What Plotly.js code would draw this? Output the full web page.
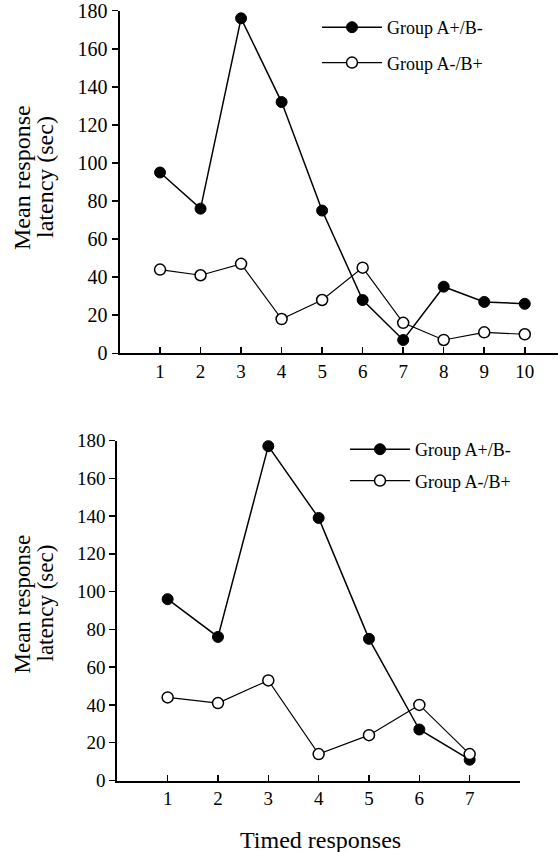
<!DOCTYPE html>
<html>
<head>
<meta charset="utf-8">
<script src="https://cdn.plot.ly/plotly-3.0.1.min.js"></script>
<style>html,body{margin:0;padding:0;background:#fff;}#chart{width:560px;height:852px;}</style>
</head>
<body>
<div id="chart"></div>
<script>
// Top panel: 10 timed responses
var topX = [1, 2, 3, 4, 5, 6, 7, 8, 9, 10];
var topGroupA = [95, 76, 176, 132, 75, 28, 7, 35, 27, 26];   // Group A+/B- (filled)
var topGroupB = [44, 41, 47, 18, 28, 45, 16, 7, 11, 10];     // Group A-/B+ (open)
// Bottom panel: 7 timed responses
var botX = [1, 2, 3, 4, 5, 6, 7];
var botGroupA = [96, 76, 177, 139, 75, 27, 11];
var botGroupB = [44, 41, 53, 14, 24, 40, 14];

var seriesNames = ['Group A+/B-', 'Group A-/B+'];
var topTickVals = [1, 2, 3, 4, 5, 6, 7, 8, 9, 10];
var topTickText = ['1', '2', '3', '4', '5', '6', '7', '8', '9', '10'];
var botTickVals = [1, 2, 3, 4, 5, 6, 7, 8];
var botTickText = ['1', '2', '3', '4', '5', '6', '7', ''];
var yTickVals = [0, 20, 40, 60, 80, 100, 120, 140, 160, 180];
var yTitleLines = ['Mean response', 'latency (sec)'];
var xTitle = 'Timed responses';

var FONT = '"Liberation Serif", "Times New Roman", Times, serif';

function filled(x, y, xa, ya, leg) {
  return {x: x, y: y, xaxis: xa, yaxis: ya, type: 'scatter', mode: 'lines+markers',
    name: seriesNames[0], legend: leg, legendgroup: leg + 'a', cliponaxis: false,
    line: {color: '#000', width: 1.5},
    marker: {symbol: 'circle', size: 11, color: '#000', line: {color: '#000', width: 1}}};
}
function open(x, y, xa, ya, leg) {
  return {x: x, y: y, xaxis: xa, yaxis: ya, type: 'scatter', mode: 'lines+markers',
    name: seriesNames[1], legend: leg, legendgroup: leg + 'b', cliponaxis: false,
    line: {color: '#000', width: 1.2},
    marker: {symbol: 'circle', size: 11, color: '#fff', line: {color: '#000', width: 1.5}}};
}

var data = [
  filled(topX, topGroupA, 'x', 'y', 'legend'),
  open(topX, topGroupB, 'x', 'y', 'legend'),
  filled(botX, botGroupA, 'x2', 'y2', 'legend2'),
  open(botX, botGroupB, 'x2', 'y2', 'legend2')
];

var W = 560, H = 852;
function px(v) { return v / W; }
function py(v) { return 1 - v / H; }

var yAxisBase = {
  range: [0, 180], tickmode: 'array', tickvals: yTickVals,
  showline: true, linecolor: '#000', linewidth: 2,
  ticks: 'outside', ticklen: 6, tickwidth: 1.5, tickcolor: '#000',
  showgrid: false, zeroline: false, fixedrange: true, ticklabeloverflow: 'allow',
  tickfont: {family: FONT, size: 20, color: '#000'}
};
var xAxisBase = {
  showline: true, linecolor: '#000', linewidth: 2,
  ticks: 'inside', ticklen: 6, tickwidth: 1.5, tickcolor: '#000',
  showgrid: false, zeroline: false, fixedrange: true, tickmode: 'array', ticklabeloverflow: 'allow',
  tickfont: {family: FONT, size: 19, color: '#000'}
};

var layout = {
  width: W, height: H,
  margin: {l: 0, r: 0, t: 0, b: 0},
  paper_bgcolor: '#fff', plot_bgcolor: 'rgba(0,0,0,0)',
  showlegend: true,
  font: {family: FONT, color: '#000'},
  xaxis: Object.assign({}, xAxisBase, {domain: [px(119.5), px(558)], range: [0, 10.82],
    tickvals: topTickVals, ticktext: topTickText, anchor: 'y'}),
  yaxis: Object.assign({}, yAxisBase, {domain: [py(353.3), py(10.7)], anchor: 'x'}),
  xaxis2: Object.assign({}, xAxisBase, {domain: [px(117.3), px(520)], range: [0, 8],
    tickvals: botTickVals, ticktext: botTickText, anchor: 'y2'}),
  yaxis2: Object.assign({}, yAxisBase, {domain: [py(780.5), py(440.5)], anchor: 'x2',
    tickfont: {family: FONT, size: 19, color: '#000'}}),
  legend: {x: px(317), y: py(9), xanchor: 'left', yanchor: 'top', bgcolor: 'rgba(0,0,0,0)',
    font: {family: FONT, size: 18, color: '#000'}, tracegroupgap: 9, itemwidth: 60,
    traceorder: 'grouped'},
  legend2: {x: px(345), y: py(431), xanchor: 'left', yanchor: 'top', bgcolor: 'rgba(0,0,0,0)',
    font: {family: FONT, size: 18, color: '#000'}, tracegroupgap: 5, itemwidth: 60,
    traceorder: 'grouped'},
  annotations: [
    {text: yTitleLines[0], textangle: -90, xref: 'paper', yref: 'paper', x: px(22), y: py(178),
     xanchor: 'center', yanchor: 'middle', showarrow: false, font: {family: FONT, size: 24, color: '#000'}},
    {text: yTitleLines[1], textangle: -90, xref: 'paper', yref: 'paper', x: px(45), y: py(177),
     xanchor: 'center', yanchor: 'middle', showarrow: false, font: {family: FONT, size: 24, color: '#000'}},
    {text: yTitleLines[0], textangle: -90, xref: 'paper', yref: 'paper', x: px(21.5), y: py(604),
     xanchor: 'center', yanchor: 'middle', showarrow: false, font: {family: FONT, size: 23, color: '#000'}},
    {text: yTitleLines[1], textangle: -90, xref: 'paper', yref: 'paper', x: px(44.5), y: py(603),
     xanchor: 'center', yanchor: 'middle', showarrow: false, font: {family: FONT, size: 23, color: '#000'}},
    {text: xTitle, xref: 'paper', yref: 'paper', x: px(320), y: py(840),
     xanchor: 'center', yanchor: 'middle', showarrow: false, font: {family: FONT, size: 24, color: '#000'}}
  ]
};

Plotly.newPlot('chart', data, layout, {displayModeBar: false, staticPlot: true});
</script>
</body>
</html>
